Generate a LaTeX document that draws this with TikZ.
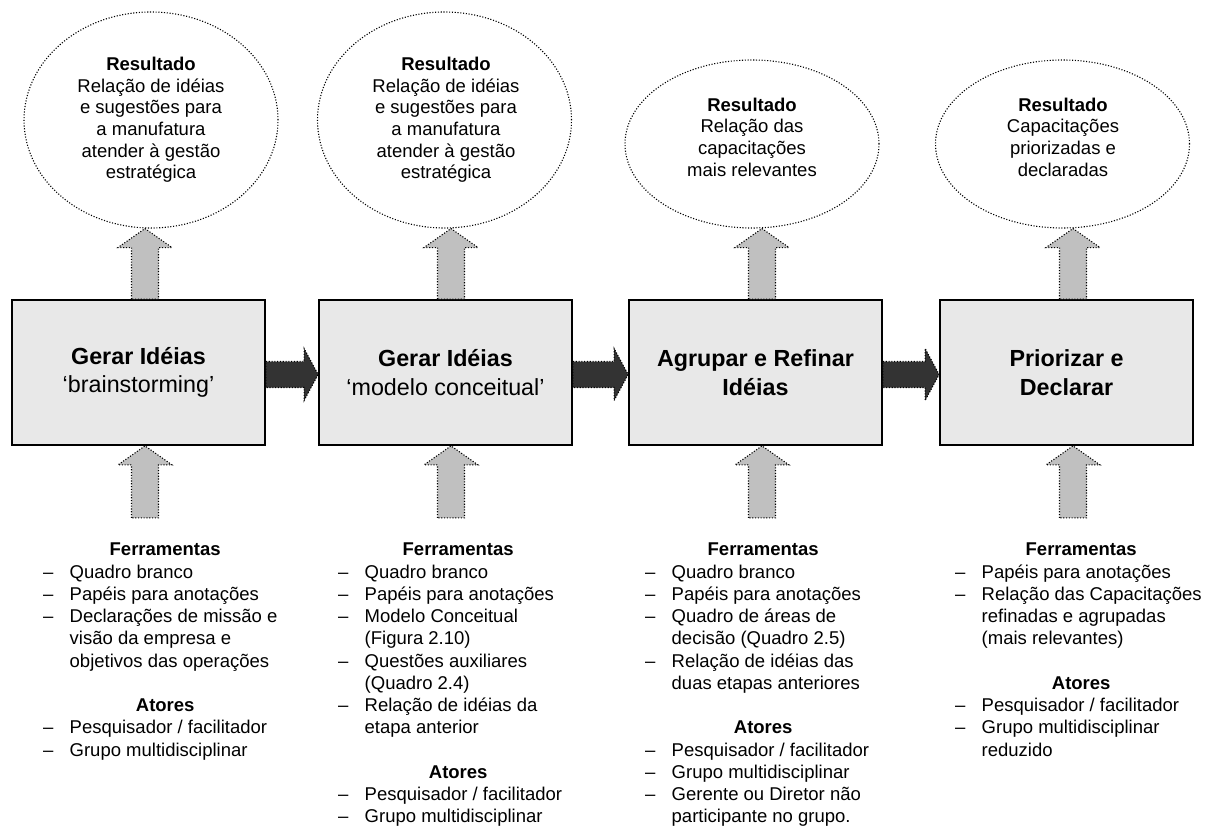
\documentclass[tikz,border=0pt]{standalone}
\usepackage{fontspec}
\setmainfont{Liberation Sans}
\usetikzlibrary{calc,shapes.geometric}

\definecolor{boxgray}{RGB}{232,232,232}
\definecolor{arrowgray}{RGB}{192,192,192}
\definecolor{arrowdark}{RGB}{51,51,51}

% list helpers: centred heading, dashed item, continuation line
\newcommand\thd[2]{\makebox[#1pt][c]{\bfseries #2}}
\newcommand\tli[1]{\makebox[26.5pt][l]{–}#1}
\newcommand\tlc[1]{\hspace*{26.5pt}#1}

% block arrow pointing up, from a base point to a tip point
\newcommand\blockup[3]{%
  \draw[#1] let \p1=#2, \p2=#3 in
    (\x1-13.5pt,\y1) -- (\x1-13.5pt,\y2-19pt) -- (\x1-27pt,\y2-19pt) --
    (\x1,\y2) -- (\x1+27pt,\y2-19pt) -- (\x1+13.5pt,\y2-19pt) --
    (\x1+13.5pt,\y1) -- cycle;}
% block arrow pointing right, between two stages
\newcommand\blockright[2]{%
  \draw[flowarrow] let \p1=#1, \p2=#2 in
    (\x1,\y1+13pt) -- (\x2-14pt,\y1+13pt) -- (\x2-14pt,\y1+26pt) --
    (\x2,\y1) -- (\x2-14pt,\y1-26pt) -- (\x2-14pt,\y1-13pt) --
    (\x1,\y1-13pt) -- cycle;}

\tikzset{
  dots/.style={line width=1.1pt, dash pattern=on 1.1pt off 1.7pt},
  stage/.style={draw=black, line width=1.8pt, fill=boxgray,
    minimum width=253pt, minimum height=145pt, inner sep=0pt,
    align=center, font=\fontsize{23.3}{28.5}\selectfont},
  result/.style={ellipse, draw=black, dots, minimum width=254pt, inner sep=0pt},
  restext/.style={align=center, inner sep=0pt,
    font=\fontsize{18.5}{21.6}\selectfont},
  listtext/.style={align=left, inner sep=0pt, anchor=north west,
    font=\fontsize{18.5}{22.25}\selectfont},
  inarrow/.style={fill=arrowgray, draw=black, dots},
  flowarrow/.style={fill=arrowdark, draw=black, dots},
}

\begin{document}
\begin{tikzpicture}[x=1pt,y=-1pt]
\useasboundingbox (0,0) rectangle (1206,825);

% stages
\node[stage] (b1) at (138.5,372.5) {\textbf{Gerar Idéias}\\‘brainstorming’};
\node[stage] (b2) at (445.5,372.5) {\textbf{Gerar Idéias}\\‘modelo conceitual’};
\node[stage] (b3) at (755.5,372.5) {\textbf{Agrupar e Refinar}\\\textbf{Idéias}};
\node[stage] (b4) at (1066.5,372.5) {\textbf{Priorizar e}\\\textbf{Declarar}};

% results
\node[result, minimum height=216pt] (e1) at (151,120) {};
\node[result, minimum height=216pt] (e2) at (444.5,120) {};
\node[result, minimum height=168pt] (e3) at (752,144) {};
\node[result, minimum height=168pt] (e4) at (1062.5,144) {};

\node[restext] (r1) at (151,120) {\textbf{Resultado}\\Relação de idéias\\e sugestões para\\a manufatura\\atender à gestão\\estratégica};
\node[restext] (r2) at (446,120) {\textbf{Resultado}\\Relação de idéias\\e sugestões para\\a manufatura\\atender à gestão\\estratégica};
\node[restext] (r3) at (752,137) {\textbf{Resultado}\\Relação das\\capacitações\\mais relevantes};
\node[restext] (r4) at (1063,137) {\textbf{Resultado}\\Capacitações\\priorizadas e\\declaradas};

% flow between stages
\blockright{($(b1.east)+(0,2)$)}{(b2.west)}
\blockright{($(b2.east)+(0,2)$)}{(b3.west)}
\blockright{($(b3.east)+(0,2)$)}{(b4.west)}

% outputs
\blockup{inarrow}{($(b1.north)+(6.5,0)$)}{(e1.south)}
\blockup{inarrow}{($(b2.north)+(5.5,0)$)}{(e2.south)}
\blockup{inarrow}{($(b3.north)+(6.5,0)$)}{(e3.south)}
\blockup{inarrow}{($(b4.north)+(6.5,0)$)}{(e4.south)}

% inputs
\blockup{inarrow}{($(b1.south)+(6.5,72)$)}{($(b1.south)+(6.5,0)$)}
\blockup{inarrow}{($(b2.south)+(5.5,72)$)}{($(b2.south)+(5.5,0)$)}
\blockup{inarrow}{($(b3.south)+(6.5,72)$)}{($(b3.south)+(6.5,0)$)}
\blockup{inarrow}{($(b4.south)+(6.5,72)$)}{($(b4.south)+(6.5,0)$)}

% tools and actors
\node[listtext] (t1) at (43,543) {%
  \thd{244}{Ferramentas}\\
  \tli{Quadro branco}\\
  \tli{Papéis para anotações}\\
  \tli{Declarações de missão e}\\
  \tlc{visão da empresa e}\\
  \tlc{objetivos das operações}\\[22.25pt]
  \thd{244}{Atores}\\
  \tli{Pesquisador / facilitador}\\
  \tli{Grupo multidisciplinar}};

\node[listtext] (t2) at (338,543) {%
  \thd{240}{Ferramentas}\\
  \tli{Quadro branco}\\
  \tli{Papéis para anotações}\\
  \tli{Modelo Conceitual}\\
  \tlc{(Figura 2.10)}\\
  \tli{Questões auxiliares}\\
  \tlc{(Quadro 2.4)}\\
  \tli{Relação de idéias da}\\
  \tlc{etapa anterior}\\[22.25pt]
  \thd{240}{Atores}\\
  \tli{Pesquisador / facilitador}\\
  \tli{Grupo multidisciplinar}};

\node[listtext] (t3) at (645,543) {%
  \thd{236}{Ferramentas}\\
  \tli{Quadro branco}\\
  \tli{Papéis para anotações}\\
  \tli{Quadro de áreas de}\\
  \tlc{decisão (Quadro 2.5)}\\
  \tli{Relação de idéias das}\\
  \tlc{duas etapas anteriores}\\[22.25pt]
  \thd{236}{Atores}\\
  \tli{Pesquisador / facilitador}\\
  \tli{Grupo multidisciplinar}\\
  \tli{Gerente ou Diretor não}\\
  \tlc{participante no grupo.}};

\node[listtext] (t4) at (955,543) {%
  \thd{252}{Ferramentas}\\
  \tli{Papéis para anotações}\\
  \tli{Relação das Capacitações}\\
  \tlc{refinadas e agrupadas}\\
  \tlc{(mais relevantes)}\\[22.25pt]
  \thd{252}{Atores}\\
  \tli{Pesquisador / facilitador}\\
  \tli{Grupo multidisciplinar}\\
  \tlc{reduzido}};
\end{tikzpicture}
\end{document}
